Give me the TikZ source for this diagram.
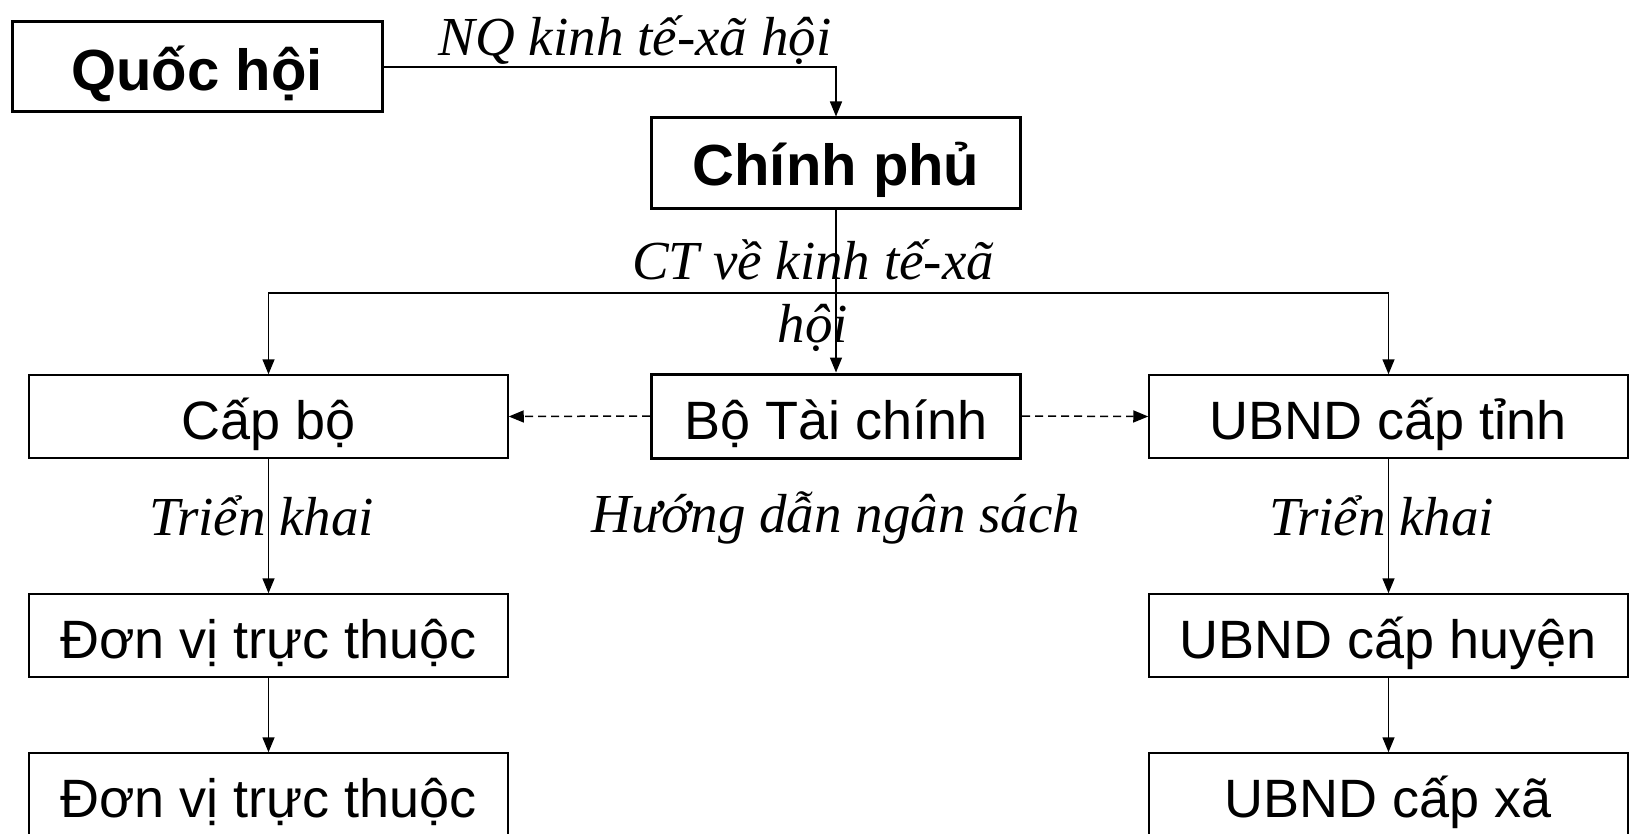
\documentclass[tikz,border=0pt]{standalone}
\usepackage{fontspec}
\setmainfont{Liberation Sans}
\newfontfamily\nhanfont{Liberation Serif}
\usetikzlibrary{arrows.meta}

\begin{document}
\begin{tikzpicture}[x=1pt,y=-1pt,
    hop/.style={draw,line width=1.5pt,minimum width=479pt,minimum height=83pt,inner sep=0pt,
      text height=45pt,text depth=0pt,font=\fontsize{54}{60}\selectfont},
    hopdam/.style={hop,line width=3pt,minimum width=369pt},
    nhan/.style={anchor=base,align=center,font=\nhanfont\itshape\fontsize{55}{62.5}\selectfont},
    muiten/.style={-{Triangle[length=15pt,width=12pt]},line width=1.5pt}]
        \useasboundingbox (0,0) rectangle (1633,834);
        % cac cap
        \node[hopdam,minimum width=370pt,minimum height=90pt,text height=48pt,font=\bfseries\fontsize{58}{64}\selectfont] (quochoi) at (197,67) {Quốc hội};
        \node[hopdam,minimum height=91pt,text height=45pt,font=\bfseries\fontsize{58}{64}\selectfont] (chinhphu) at (836,163.5) {Chính phủ};
        \node[hopdam,minimum height=84pt,text height=46pt] (btc) at (836,416) {Bộ Tài chính};
        \node[hop] (capbo) at (268.5,416.5) {Cấp bộ};
        \node[hop] (tinh) at (1388.5,416.5) {UBND cấp tỉnh};
        \node[hop] (donvi) at (268.5,635.5) {Đơn vị trực thuộc};
        \node[hop] (huyen) at (1388.5,635.5) {UBND cấp huyện};
        \node[hop] (donvib) at (268.5,794.5) {Đơn vị trực thuộc};
        \node[hop] (xa) at (1388.5,794.5) {UBND cấp xã};
        \coordinate (nga) at (836,293);
        % mui ten
        \draw[muiten] (quochoi.east) -| (chinhphu.north);
        \draw[muiten] (chinhphu.south) -- (btc.north);
        \draw[muiten] (nga) -| (capbo.north);
        \draw[muiten] (nga) -| (tinh.north);
        \draw[muiten,dash pattern=on 8pt off 5pt] (btc.west) -- (capbo.east);
        \draw[muiten,dash pattern=on 8pt off 5pt] (btc.east) -- (tinh.west);
        \draw[muiten] (capbo.south) -- (donvi.north);
        \draw[muiten] (donvi.south) -- (donvib.north);
        \draw[muiten] (tinh.south) -- (huyen.north);
        \draw[muiten] (huyen.south) -- (xa.north);
        % nhan
        \node[nhan] (nq) at (635,56) {NQ kinh tế-xã hội};
        \node[nhan] (ct) at (813,342) {CT về kinh tế-xã\\hội};
        \node[nhan] (huongdan) at (836,532) {Hướng dẫn ngân sách};
        \node[nhan] (trienkhai) at (262,535) {Triển khai};
        \node[nhan] (trienkhaib) at (1382,535) {Triển khai};
      \end{tikzpicture}
\end{document}
